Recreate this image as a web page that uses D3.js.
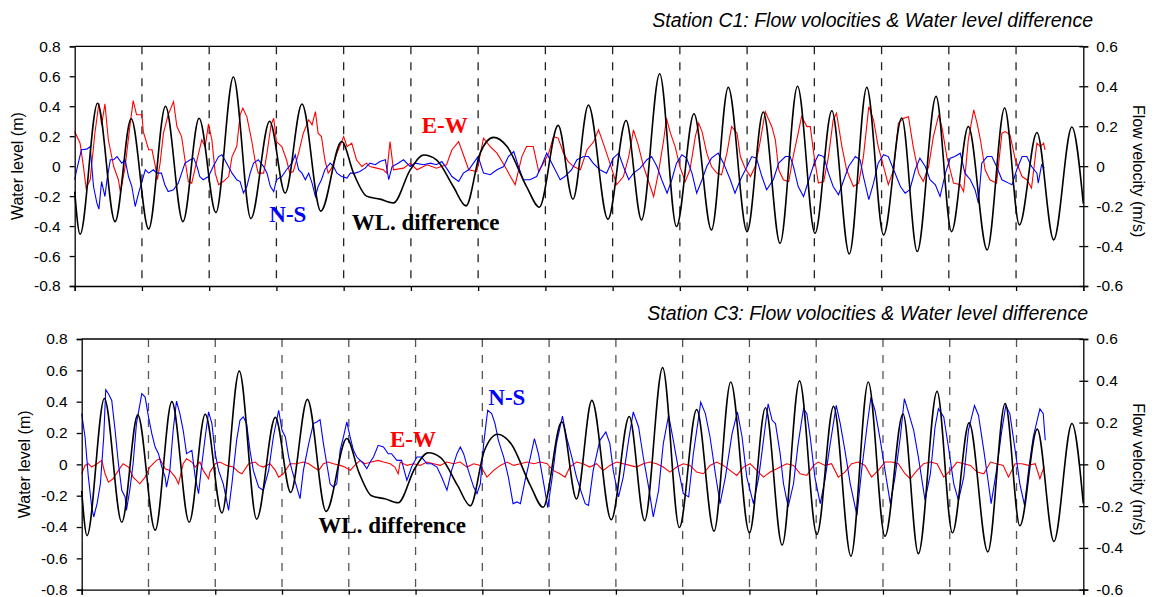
<!DOCTYPE html>
<html>
<head>
<meta charset="utf-8">
<script src="https://cdn.jsdelivr.net/npm/d3@7"></script>
<style>
  body { margin: 0; background: #fff; }
  svg { display: block; }
  .tick text { font-family: "Liberation Sans", Arial, sans-serif; font-size: 15.5px; fill: #000; }
  .axis path, .axis line { stroke: #000; stroke-width: 1.3; }
</style>
</head>
<body>
<svg id="chart"></svg>
<script>
// time in days, water level difference in m (same record on both panels)
var wlDiff = [[0,-0.17],[0.08,-0.455],[0.34,0.42],[0.60,-0.37],[0.84,0.316],[1.10,-0.42],[1.35,0.40],[1.61,-0.37],
  [1.85,0.32],[2.10,-0.31],[2.36,0.595],[2.62,-0.35],[2.90,0.30],[3.13,-0.18],[3.38,0.415],[3.66,-0.30],[3.97,0.165],
  [4.15,-0.05],[4.34,-0.20],[4.54,-0.22],[4.74,-0.245],[4.99,-0.025],[5.19,0.074],[5.38,0.042],[5.63,-0.136],[5.82,-0.265],
  [6.03,0.087],[6.23,0.192],[6.43,0.131],[6.72,-0.136],[6.91,-0.274],[7.19,0.272],[7.41,-0.221],[7.64,0.408],[7.93,-0.354],
  [8.20,0.305],[8.43,-0.359],[8.70,0.617],[8.95,-0.403],[9.21,0.35],[9.47,-0.426],[9.72,0.526],[10.0,-0.437],[10.24,0.361],
  [10.49,-0.515],[10.75,0.533],[11.01,-0.448],[11.26,0.37],[11.52,-0.586],[11.78,0.526],[12.03,-0.459],[12.30,0.321],
  [12.53,-0.57],[12.81,0.466],[13.04,-0.437],[13.29,0.265],[13.57,-0.559],[13.83,0.388],[14.05,-0.392],[14.31,0.225],
  [14.56,-0.492],[14.83,0.261],[15,-0.25]];

// Station C1 velocities (m/s)
var c1EW = [[0,0.173],[0.08,0.115],[0.13,-0.002],[0.17,-0.11],[0.23,-0.068],[0.30,0.165],[0.36,0.315],[0.40,0.207],[0.45,0.312],
  [0.50,0.132],[0.58,-0.002],[0.65,-0.068],[0.68,-0.132],[0.75,-0.002],[0.82,0.198],[0.87,0.328],[0.92,0.257],[1.00,0.257],
  [1.02,0.173],[1.10,0.082],[1.15,0.082],[1.20,-0.002],[1.23,-0.068],[1.27,0.015],[1.32,0.165],[1.39,0.257],[1.47,0.323],
  [1.52,0.198],[1.59,0.148],[1.64,0.032],[1.69,-0.077],[1.74,-0.085],[1.82,0.032],[1.89,0.132],[1.94,0.098],[1.99,0.212],
  [2.04,0.132],[2.09,-0.035],[2.14,-0.093],[2.21,-0.077],[2.29,-0.052],[2.34,0.048],[2.41,0.098],[2.46,0.257],[2.50,0.29],
  [2.56,0.248],[2.63,0.132],[2.68,0.032],[2.73,-0.035],[2.81,-0.035],[2.86,0.065],[2.92,0.207],[2.96,0.24],[3.00,0.123],
  [3.08,0.098],[3.15,0.032],[3.20,-0.035],[3.25,-0.027],[3.33,0.065],[3.40,0.165],[3.48,0.232],[3.53,0.207],[3.58,0.273],
  [3.62,0.165],[3.67,0.148],[3.72,0.032],[3.77,-0.035],[3.82,-0.01],[3.90,0.065],[4.00,0.148],[4.05,0.098],[4.12,0.115],
  [4.19,0.032],[4.27,-0.002],[4.34,0.015],[4.39,-0.002],[4.49,-0.01],[4.59,-0.018],[4.64,-0.035],[4.69,0.123],[4.74,-0.018],
  [4.89,-0.01],[4.99,0.015],[5.09,-0.018],[5.24,0.007],[5.38,-0.01],[5.53,0.007],[5.61,0.082],[5.71,0.123],[5.78,0.057],
  [5.86,-0.018],[5.98,-0.027],[6.08,0.14],[6.18,0.098],[6.28,0.065],[6.40,-0.002],[6.48,-0.052],[6.55,-0.093],[6.65,0.048],
  [6.72,0.098],[6.82,0.098],[6.90,-0.027],[6.97,0.015],[7.05,0.065],[7.12,0.148],[7.19,0.14],[7.27,0.065],[7.34,0.023],
  [7.42,-0.002],[7.52,-0.018],[7.62,0.082],[7.72,0.123],[7.79,0.182],[7.86,0.115],[7.96,0.015],[8.06,-0.093],[8.16,-0.052],
  [8.24,0.048],[8.31,0.182],[8.38,0.107],[8.46,-0.002],[8.56,-0.102],[8.61,-0.152],[8.68,-0.035],[8.76,0.132],[8.80,0.24],
  [8.86,0.165],[8.93,0.098],[9.00,-0.002],[9.08,-0.077],[9.15,-0.018],[9.23,0.148],[9.28,0.215],[9.33,0.173],[9.40,0.065],
  [9.47,-0.002],[9.55,-0.035],[9.62,-0.043],[9.70,0.065],[9.77,0.198],[9.85,0.165],[9.90,0.048],[9.97,-0.01],[10.05,-0.052],
  [10.12,-0.002],[10.19,0.115],[10.27,0.273],[10.37,0.195],[10.42,0.132],[10.47,-0.018],[10.54,-0.068],[10.62,-0.077],
  [10.69,0.057],[10.76,0.165],[10.81,0.248],[10.89,0.198],[10.94,0.198],[10.99,0.065],[11.06,-0.085],[11.14,-0.077],
  [11.21,0.048],[11.28,0.232],[11.33,0.265],[11.41,0.098],[11.48,-0.018],[11.58,-0.102],[11.66,-0.085],[11.73,0.048],
  [11.81,0.298],[11.88,0.232],[11.95,0.098],[12.03,-0.002],[12.10,-0.093],[12.18,-0.018],[12.25,0.215],[12.33,0.24],
  [12.40,0.248],[12.47,0.098],[12.55,-0.035],[12.62,-0.077],[12.70,-0.002],[12.77,0.148],[12.85,0.257],[12.90,0.19],
  [12.97,0.048],[13.07,-0.085],[13.17,-0.093],[13.22,-0.127],[13.29,0.132],[13.37,0.282],[13.42,0.215],[13.47,0.132],
  [13.54,-0.018],[13.61,-0.068],[13.71,-0.085],[13.79,0.165],[13.84,0.173],[13.91,0.157],[13.99,0.032],[14.09,-0.052],
  [14.16,-0.068],[14.23,-0.11],[14.31,0.115],[14.36,0.098],[14.41,0.115],[14.43,0.082]];

var c1NS = [[0,-0.068],[0.03,-0.018],[0.10,0.082],[0.18,0.085],[0.23,0.098],[0.28,-0.102],[0.33,-0.185],[0.36,-0.215],
  [0.40,-0.077],[0.45,-0.152],[0.48,-0.068],[0.53,0.032],[0.58,0.032],[0.63,0.048],[0.70,0.015],[0.75,0.032],[0.80,-0.052],
  [0.85,-0.102],[0.90,-0.202],[0.95,-0.135],[1.00,-0.077],[1.05,-0.018],[1.10,-0.035],[1.17,-0.018],[1.22,-0.035],
  [1.29,-0.035],[1.34,-0.093],[1.39,-0.127],[1.47,-0.118],[1.54,-0.085],[1.59,-0.035],[1.64,0.015],[1.72,0.032],
  [1.77,0.04],[1.82,-0.002],[1.86,-0.052],[1.91,-0.068],[1.99,-0.052],[2.06,-0.002],[2.14,0.048],[2.19,0.057],
  [2.26,0.015],[2.34,-0.035],[2.41,-0.068],[2.46,-0.077],[2.51,-0.135],[2.56,-0.102],[2.61,-0.035],[2.66,0.015],
  [2.73,0.032],[2.81,-0.002],[2.86,-0.035],[2.91,-0.102],[2.96,-0.127],[3.00,-0.068],[3.08,-0.052],[3.15,-0.018],
  [3.23,0.015],[3.28,0.057],[3.33,-0.018],[3.38,-0.035],[3.43,-0.068],[3.48,-0.035],[3.53,-0.085],[3.58,-0.152],
  [3.62,-0.102],[3.67,-0.068],[3.72,-0.018],[3.80,0.015],[3.85,-0.002],[3.90,-0.035],[3.97,-0.052],[4.05,-0.06],
  [4.10,-0.035],[4.17,-0.035],[4.24,-0.027],[4.32,-0.01],[4.39,0.015],[4.47,0.007],[4.54,0.023],[4.62,0.032],
  [4.67,-0.068],[4.72,-0.002],[4.81,0.015],[4.89,0.032],[4.99,-0.002],[5.06,0.015],[5.19,0.007],[5.29,0.015],
  [5.38,0.007],[5.46,0.023],[5.53,-0.01],[5.61,-0.052],[5.71,-0.077],[5.78,-0.035],[5.86,-0.018],[5.93,0.015],
  [6.00,0.048],[6.08,-0.035],[6.18,-0.043],[6.28,-0.018],[6.38,-0.002],[6.45,0.048],[6.53,0.073],[6.60,-0.002],
  [6.67,-0.068],[6.77,-0.068],[6.87,-0.052],[6.95,0.007],[7.02,0.065],[7.12,-0.002],[7.22,-0.068],[7.29,-0.052],
  [7.39,-0.018],[7.47,0.032],[7.57,0.048],[7.64,0.048],[7.71,0.015],[7.81,-0.018],[7.91,-0.035],[8.01,0.04],
  [8.09,0.065],[8.16,-0.002],[8.24,-0.068],[8.31,-0.035],[8.41,-0.01],[8.51,0.032],[8.58,0.048],[8.66,-0.002],
  [8.73,-0.068],[8.81,-0.135],[8.88,-0.068],[8.95,0.015],[9.03,0.057],[9.10,0.04],[9.18,-0.035],[9.25,-0.135],
  [9.33,-0.068],[9.40,-0.002],[9.47,0.04],[9.57,0.065],[9.65,0.015],[9.75,-0.068],[9.82,-0.135],[9.90,-0.068],
  [10.00,-0.002],[10.07,0.048],[10.14,0.04],[10.22,-0.052],[10.29,-0.118],[10.39,-0.068],[10.47,0.015],[10.57,0.048],
  [10.64,0.048],[10.69,-0.002],[10.76,-0.102],[10.84,-0.152],[10.91,-0.077],[10.99,0.007],[11.06,0.057],[11.14,0.048],
  [11.21,-0.035],[11.28,-0.102],[11.36,-0.143],[11.43,-0.077],[11.51,-0.002],[11.61,0.048],[11.68,0.032],[11.73,-0.052],
  [11.81,-0.168],[11.88,-0.085],[11.95,0.015],[12.03,0.057],[12.10,0.048],[12.18,-0.018],[12.28,-0.102],[12.35,-0.135],
  [12.42,-0.118],[12.50,-0.018],[12.57,0.04],[12.65,-0.002],[12.72,-0.068],[12.80,-0.093],[12.87,-0.152],[12.95,-0.035],
  [13.02,0.04],[13.09,0.048],[13.17,0.065],[13.24,-0.035],[13.32,-0.068],[13.39,-0.118],[13.44,-0.185],[13.49,0.015],
  [13.57,0.048],[13.64,0.048],[13.71,-0.002],[13.79,-0.068],[13.89,-0.085],[13.94,-0.093],[14.01,-0.018],[14.09,0.048],
  [14.16,0.048],[14.23,-0.002],[14.31,-0.035],[14.33,-0.085],[14.38,0.007],[14.42,-0.01]];

// Station C3 velocities (m/s)
var c3EW = [[0,-0.045],[0.05,-0.005],[0.10,0.003],[0.15,-0.013],[0.23,0.003],[0.30,0.019],[0.35,-0.045],[0.40,-0.085],
  [0.47,-0.069],[0.55,-0.029],[0.62,0.003],[0.70,-0.013],[0.77,-0.061],[0.87,-0.093],[0.95,-0.061],[1.02,-0.013],
  [1.12,0.019],[1.17,0.027],[1.25,-0.021],[1.32,-0.029],[1.40,-0.061],[1.45,-0.093],[1.52,0.003],[1.57,0.027],
  [1.65,0.011],[1.70,-0.013],[1.77,0.011],[1.82,-0.029],[1.90,-0.069],[1.92,-0.037],[2.00,0.003],[2.07,0.011],
  [2.17,-0.005],[2.27,-0.013],[2.35,-0.037],[2.40,-0.045],[2.50,0.003],[2.60,0.011],[2.65,-0.005],[2.72,-0.013],
  [2.82,0.003],[2.90,-0.029],[2.95,-0.061],[3.02,-0.045],[3.12,0.003],[3.22,0.003],[3.32,0.011],[3.40,0.003],
  [3.47,-0.013],[3.55,-0.029],[3.62,0.003],[3.69,0.011],[3.77,0.003],[3.87,-0.005],[3.94,-0.013],[4.02,-0.029],
  [4.09,-0.005],[4.17,0.019],[4.24,0.003],[4.34,0.011],[4.44,0.019],[4.52,0.011],[4.62,0.003],[4.69,-0.013],
  [4.74,-0.045],[4.77,0.011],[4.87,-0.005],[4.97,0.003],[5.07,-0.005],[5.17,0.011],[5.27,0.003],[5.37,-0.005],
  [5.47,0.011],[5.57,0.003],[5.67,0.011],[5.77,-0.013],[5.87,0.003],[5.97,-0.005],[6.07,-0.061],[6.17,-0.029],
  [6.27,-0.005],[6.37,0.011],[6.47,-0.005],[6.57,0.003],[6.67,0.011],[6.77,0.003],[6.87,0.011],[6.97,0.003],
  [7.06,-0.029],[7.16,-0.045],[7.24,-0.061],[7.31,-0.013],[7.41,0.011],[7.51,0.003],[7.61,-0.013],[7.71,0.003],
  [7.81,-0.029],[7.91,-0.005],[8.01,0.011],[8.11,0.003],[8.21,-0.005],[8.31,-0.013],[8.41,0.003],[8.51,0.011],
  [8.61,0.003],[8.71,-0.013],[8.81,-0.037],[8.91,-0.013],[9.01,0.003],[9.11,-0.005],[9.21,-0.037],[9.31,-0.045],
  [9.41,-0.005],[9.51,0.011],[9.61,-0.005],[9.71,-0.029],[9.81,-0.053],[9.91,-0.013],[10.01,0.003],[10.11,-0.029],
  [10.21,-0.061],[10.31,-0.037],[10.41,-0.021],[10.46,-0.013],[10.56,0.003],[10.66,-0.005],[10.76,-0.045],
  [10.86,-0.053],[10.96,-0.005],[11.03,0.011],[11.13,-0.005],[11.23,0.003],[11.33,-0.061],[11.43,-0.037],
  [11.53,0.003],[11.63,0.011],[11.73,-0.005],[11.83,-0.061],[11.93,-0.029],[12.03,0.011],[12.13,0.011],
  [12.23,0.003],[12.33,-0.045],[12.41,-0.069],[12.51,-0.029],[12.61,0.003],[12.71,0.011],[12.81,0.003],
  [12.91,-0.061],[13.01,-0.029],[13.11,0.011],[13.21,0.003],[13.31,-0.005],[13.41,-0.037],[13.51,-0.045],
  [13.61,0.011],[13.70,0.003],[13.80,-0.005],[13.88,-0.061],[13.98,0.003],[14.08,0.003],[14.18,-0.005],
  [14.28,0.003],[14.35,-0.069],[14.41,-0.013]];

var c3NS = [[0,0.243],[0.05,0.131],[0.10,-0.061],[0.15,-0.204],[0.18,-0.252],[0.23,-0.188],[0.28,-0.093],[0.33,0.131],
  [0.36,0.357],[0.40,0.338],[0.45,0.306],[0.50,0.163],[0.55,0.003],[0.60,-0.124],[0.65,-0.156],[0.67,-0.22],[0.72,-0.124],
  [0.77,0.003],[0.82,0.195],[0.90,0.338],[0.95,0.322],[1.00,0.227],[1.05,0.147],[1.10,0.083],[1.15,0.051],[1.20,-0.013],
  [1.25,-0.061],[1.27,-0.109],[1.32,-0.029],[1.37,0.163],[1.42,0.303],[1.47,0.243],[1.52,0.163],[1.57,0.051],[1.65,0.067],
  [1.70,-0.061],[1.75,-0.14],[1.80,0.003],[1.85,0.131],[1.90,0.251],[1.95,0.195],[2.00,0.051],[2.05,-0.029],[2.12,-0.093],
  [2.20,-0.22],[2.25,-0.093],[2.32,0.115],[2.37,0.211],[2.42,0.227],[2.47,0.195],[2.52,0.067],[2.57,-0.029],[2.65,-0.109],
  [2.72,-0.124],[2.80,-0.029],[2.87,0.131],[2.95,0.259],[3.00,0.163],[3.05,0.131],[3.10,0.035],[3.15,-0.029],[3.22,-0.109],
  [3.27,-0.164],[3.32,-0.029],[3.40,0.099],[3.47,0.195],[3.52,0.203],[3.57,0.214],[3.62,0.099],[3.67,0.003],[3.72,-0.093],
  [3.77,-0.109],[3.82,-0.093],[3.87,0.067],[3.92,0.131],[3.97,0.203],[4.02,0.131],[4.07,0.067],[4.12,0.035],[4.17,0.019],
  [4.22,0.003],[4.27,-0.021],[4.32,0.011],[4.37,0.035],[4.44,0.091],[4.52,0.083],[4.59,0.051],[4.64,0.051],[4.72,0.019],
  [4.79,0.019],[4.87,-0.077],[4.94,-0.013],[5.02,0.035],[5.09,0.035],[5.17,0.003],[5.24,0.003],[5.32,-0.013],[5.39,-0.061],
  [5.47,-0.124],[5.54,-0.029],[5.62,0.051],[5.67,0.083],[5.72,0.051],[5.79,-0.029],[5.87,-0.109],[5.92,-0.14],[5.97,-0.093],
  [6.02,0.099],[6.08,0.259],[6.14,0.243],[6.19,0.195],[6.24,0.115],[6.32,0.035],[6.39,-0.061],[6.46,-0.188],[6.52,-0.18],
  [6.57,-0.188],[6.64,-0.077],[6.72,0.035],[6.78,0.123],[6.84,0.051],[6.92,-0.093],[6.98,-0.207],[7.04,-0.077],[7.11,0.099],
  [7.20,0.231],[7.26,0.131],[7.34,0.035],[7.41,-0.061],[7.49,-0.14],[7.54,-0.188],[7.59,-0.196],[7.66,-0.029],[7.76,0.115],
  [7.85,0.155],[7.91,0.099],[7.96,-0.029],[8.04,-0.156],[8.11,-0.061],[8.19,0.115],[8.26,0.251],[8.34,0.179],[8.41,0.035],
  [8.49,-0.109],[8.56,-0.252],[8.64,-0.124],[8.71,0.099],[8.79,0.235],[8.86,0.115],[8.94,-0.029],[9.01,-0.14],[9.09,-0.156],
  [9.16,0.051],[9.24,0.227],[9.27,0.298],[9.34,0.243],[9.41,0.131],[9.49,-0.045],[9.56,-0.188],[9.64,-0.061],[9.74,0.147],
  [9.82,0.251],[9.89,0.131],[9.96,-0.061],[10.06,-0.188],[10.14,-0.061],[10.21,0.115],[10.28,0.29],[10.34,0.211],
  [10.39,0.195],[10.46,0.051],[10.51,-0.093],[10.58,-0.204],[10.66,-0.093],[10.73,0.099],[10.81,0.266],[10.86,0.243],
  [10.91,0.131],[10.98,-0.061],[11.06,-0.188],[11.13,-0.077],[11.21,0.099],[11.30,0.282],[11.36,0.195],[11.43,0.067],
  [11.51,-0.093],[11.61,-0.244],[11.68,-0.029],[11.76,0.179],[11.82,0.322],[11.88,0.259],[11.96,0.115],[12.03,-0.029],
  [12.11,-0.188],[12.18,-0.061],[12.26,0.131],[12.32,0.314],[12.38,0.251],[12.46,0.163],[12.53,0.035],[12.63,-0.172],
  [12.71,-0.045],[12.78,0.179],[12.83,0.266],[12.91,0.227],[12.98,0.083],[13.06,-0.093],[13.13,-0.172],[13.21,-0.061],
  [13.28,0.163],[13.37,0.282],[13.43,0.235],[13.51,0.067],[13.58,-0.093],[13.62,-0.188],[13.70,-0.029],[13.78,0.163],
  [13.84,0.282],[13.90,0.243],[13.98,0.067],[14.05,-0.093],[14.12,-0.196],[14.18,-0.029],[14.25,0.131],[14.35,0.266],
  [14.40,0.243],[14.43,0.115]];

var days = d3.range(0, 16);
var levelTicks = [-0.8, -0.6, -0.4, -0.2, 0, 0.2, 0.4, 0.6, 0.8];
var velTicks = [-0.6, -0.4, -0.2, 0, 0.2, 0.4, 0.6];
var titles = ["Station C1: Flow volocities & Water level difference", "Station C3: Flow volocities & Water level difference"];

var W = 1154, H = 597;
var svg = d3.select("#chart").attr("width", W).attr("height", H);

var fmt = function(d) { return d === 0 ? "0" : d.toFixed(1); };

function drawPanel(p) {
  var w = p.right - p.left, h = p.bottom - p.top;
  var g = svg.append("g").attr("transform", "translate(" + p.left + "," + p.top + ")");

  var x = d3.scaleLinear().domain([0, 15]).range([0, w]);
  var yL = d3.scaleLinear().domain([-0.8, 0.8]).range([h, 0]);
  var yR = d3.scaleLinear().domain([-0.6, 0.6]).range([h, 0]);

  // dashed day lines
  g.selectAll(".grid").data(days.slice(1, -1)).enter().append("line")
    .attr("x1", function(d) { return x(d); }).attr("x2", function(d) { return x(d); })
    .attr("y1", 0).attr("y2", h)
    .attr("stroke", p.gridColor).attr("stroke-width", 1.3)
    .attr("stroke-dasharray", "8,8");

  var lineV = d3.line().x(function(d) { return x(d[0]); }).y(function(d) { return yR(d[1]); });
  var lineWL = d3.line().x(function(d) { return x(d[0]); }).y(function(d) { return yL(d[1]); })
    .curve(d3.curveMonotoneX);

  g.append("path").datum(p.ew).attr("d", lineV)
    .attr("fill", "none").attr("stroke", "#ff0000").attr("stroke-width", 1.1);
  g.append("path").datum(p.ns).attr("d", lineV)
    .attr("fill", "none").attr("stroke", "#0000ff").attr("stroke-width", 1.1);
  if (p.blackOnTop) {
    g.append("path").datum(wlDiff).attr("d", lineWL)
      .attr("fill", "none").attr("stroke", "#000").attr("stroke-width", 1.6);
  }

  // axes
  g.append("g").attr("class", "axis")
    .call(d3.axisLeft(yL).tickValues(levelTicks).tickSize(5).tickPadding(9).tickFormat(fmt));
  var ra = g.append("g").attr("class", "axis").attr("transform", "translate(" + w + ",0)");
  ra.call(d3.axisRight(yR).tickValues(velTicks).tickSize(5).tickPadding(8).tickFormat(fmt));
  ra.append("g").call(d3.axisLeft(yR).tickValues(velTicks).tickSize(4).tickFormat(""))
    .select(".domain").remove();
  g.append("g").attr("class", "axis").attr("transform", "translate(0," + h + ")")
    .call(d3.axisBottom(x).tickValues(days).tickSize(5).tickFormat(""));
  g.append("line").attr("x1", 0).attr("x2", w).attr("y1", 0).attr("y2", 0)
    .attr("stroke", "#000").attr("stroke-width", 1.3);

  // titles
  svg.append("text").attr("x", p.titleX).attr("y", p.top - 19).attr("text-anchor", "end")
    .attr("font-family", "Liberation Sans, Arial, sans-serif").attr("font-style", "italic")
    .attr("font-size", "19.5px").text(p.title);
  svg.append("text")
    .attr("transform", "translate(" + (p.left - 52) + "," + (p.top + h / 2) + ") rotate(-90)")
    .attr("text-anchor", "middle").attr("font-family", "Liberation Sans, Arial, sans-serif")
    .attr("font-size", "16px").text("Water level (m)");
  svg.append("text")
    .attr("transform", "translate(" + (p.right + 50) + "," + (p.top + h / 2 + 5) + ") rotate(90)")
    .attr("text-anchor", "middle").attr("font-family", "Liberation Sans, Arial, sans-serif")
    .attr("font-size", "16px").text("Flow velocity (m/s)");

  // series labels
  p.labels.forEach(function(l) {
    svg.append("text").attr("x", l.x).attr("y", l.y)
      .attr("font-family", "Liberation Serif, Times New Roman, serif").attr("font-weight", "bold")
      .attr("font-size", "23px").attr("fill", l.color).text(l.text);
  });
}

drawPanel({left: 74.7, right: 1083.3, top: 46.3, bottom: 286, gridColor: "#222",
  ew: c1EW, ns: c1NS, blackOnTop: true, title: titles[0], titleX: 1093,
  labels: [{text: "E-W", x: 421.7, y: 133, color: "#ff0000"},
           {text: "N-S", x: 269.3, y: 221.7, color: "#0000ff"},
           {text: "WL. difference", x: 351.7, y: 230, color: "#000"}]});

drawPanel({left: 81.7, right: 1083.3, top: 339, bottom: 589.7, gridColor: "#555",
  ew: c3EW, ns: c3NS, blackOnTop: true, title: titles[1], titleX: 1088,
  labels: [{text: "E-W", x: 390, y: 447, color: "#ff0000"},
           {text: "N-S", x: 488.3, y: 405.3, color: "#0000ff"},
           {text: "WL. difference", x: 318.3, y: 533, color: "#000"}]});
</script>
</body>
</html>
